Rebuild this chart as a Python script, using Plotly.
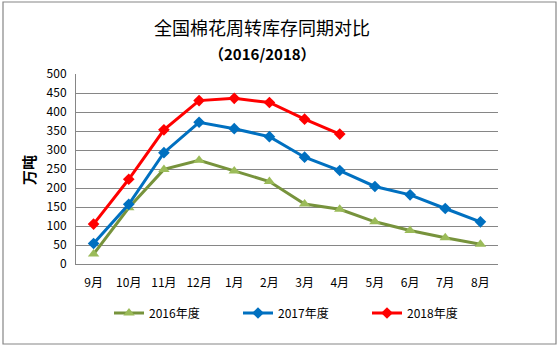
import plotly.graph_objects as go

months = ["9月", "10月", "11月", "12月", "1月", "2月", "3月", "4月", "5月", "6月", "7月", "8月"]
y2016 = [26, 148, 249, 273, 245, 217, 158, 144, 111, 88, 69, 52]
y2017 = [54, 157, 293, 373, 356, 335, 281, 246, 204, 182, 146, 111]
y2018 = [105, 223, 353, 430, 436, 425, 381, 342]
yticks = [0, 50, 100, 150, 200, 250, 300, 350, 400, 450, 500]

FONT = "Noto Sans CJK SC"

fig = go.Figure()
fig.add_trace(go.Scatter(
    x=months, y=y2016, name="2016年度", mode="lines+markers",
    line=dict(color="#77933C", width=3),
    marker=dict(symbol="triangle-up", size=10, color="#9BBB59"),
))
fig.add_trace(go.Scatter(
    x=months, y=y2017, name="2017年度", mode="lines+markers",
    line=dict(color="#0070C0", width=3),
    marker=dict(symbol="diamond", size=9, color="#0070C0"),
))
fig.add_trace(go.Scatter(
    x=months[:len(y2018)], y=y2018, name="2018年度", mode="lines+markers",
    line=dict(color="#FF0000", width=3),
    marker=dict(symbol="diamond", size=9, color="#FF0000"),
))

L, R, T, B = 76, 498, 74, 264
W, H = 559, 347
pw, ph = R - L, B - T

def px(x):
    return (x - L) / pw

def py(y):
    return (B - y) / ph

fig.update_layout(
    width=W, height=H,
    margin=dict(l=L, r=W - R, t=T, b=H - B),
    paper_bgcolor="white", plot_bgcolor="white",
    font=dict(family=FONT, size=12, color="black"),
    showlegend=True,
    legend=dict(
        orientation="h", x=px(109), y=py(313), xanchor="left", yanchor="middle",
        font=dict(family=FONT, size=12, color="black"),
        entrywidth=84, entrywidthmode="pixels", bgcolor="rgba(0,0,0,0)",
    ),
    xaxis=dict(
        type="category", categoryorder="array", categoryarray=months,
        range=[-0.5, len(months) - 0.5],
        showgrid=False, showline=True, linecolor="#868686", linewidth=1,
        ticks="", tickfont=dict(family=FONT, size=12), ticklabelstandoff=8,
        fixedrange=True,
    ),
    yaxis=dict(
        range=[0, 500], tickvals=yticks, showgrid=True, gridcolor="#868686",
        gridwidth=1, showline=True, linecolor="#868686", linewidth=1,
        ticks="", tickfont=dict(family=FONT, size=12), zeroline=False,
        ticklabelstandoff=6,
    ),
    annotations=[
        dict(text="全国棉花周转库存同期对比", xref="paper", yref="paper",
             x=px(262), y=py(27), xanchor="center", yanchor="middle",
             showarrow=False, font=dict(family=FONT, size=18, color="black")),
        dict(text="<b>（2016/2018）</b>", xref="paper", yref="paper",
             x=px(262), y=py(53), xanchor="center", yanchor="middle",
             showarrow=False, font=dict(family=FONT, size=15, color="black")),
        dict(text="<b>万吨</b>", xref="paper", yref="paper",
             x=px(28), y=py(170), xanchor="center", yanchor="middle",
             textangle=-90, showarrow=False,
             font=dict(family=FONT, size=15, color="black")),
    ],
    shapes=[
        dict(type="rect", xref="paper", yref="paper",
             x0=px(3), x1=px(556), y0=py(344), y1=py(2),
             line=dict(color="#868686", width=1.2), fillcolor="rgba(0,0,0,0)",
             layer="below"),
    ],
)

fig.write_html("out.html")
